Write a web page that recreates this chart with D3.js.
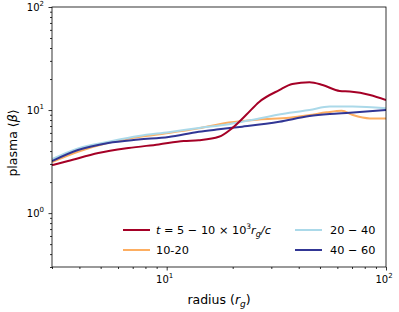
<!DOCTYPE html>
<meta charset="utf-8">
<style>
body { margin: 0; background: #fff; }
svg text { font-family: "DejaVu Sans", sans-serif; fill: #000; }
.axis path { display: none; }
.axis line { stroke: #000; stroke-width: 0.8; }
</style>
<svg class="chart" width="399" height="312"></svg>
<script src="https://d3js.org/d3.v7.min.js"></script>
<script>

var seriesNames = ["t05", "t10", "t20", "t40"];
var seriesColors = ["#a50026", "#fdae61", "#abd9e9", "#313695"];

var red = [[3,2.92],[3.55,3.2],[4.88,3.83],[6.7,4.28],[9.19,4.64],[11.97,5.0],[14.0,5.1],[17.3,5.5],[19.9,6.68],[23.0,8.94],[26.4,12.0],[32.6,15.6],[37.4,17.9],[44.8,18.6],[51.4,17.5],[61.5,15.3],[68.4,15.1],[84.5,14.0],[100,12.5]];
var orange = [[3,3.13],[3.94,3.94],[5.42,4.82],[7.45,5.47],[10.2,5.98],[14.0,6.64],[19.2,7.56],[26.4,8.09],[36.3,8.42],[44.8,8.94],[53.6,9.5],[62.8,9.84],[70.6,8.94],[84.5,8.3],[100,8.3]];
var lightBlue = [[3,3.34],[3.94,4.25],[5.42,4.92],[7.45,5.6],[10.2,6.1],[14.0,6.7],[19.2,7.3],[26.4,8.3],[36.3,9.4],[44.8,10.0],[55.4,10.8],[70.6,10.8],[100,10.4]];
var darkBlue = [[3,3.2],[3.94,4.09],[5.42,4.79],[7.45,5.17],[10.2,5.47],[14.0,6.15],[17.3,6.5],[22.1,6.9],[32.6,7.7],[44.8,8.74],[55.4,9.14],[68.4,9.4],[100,10.0]];
var series = [red, orange, lightBlue, darkBlue];

var xMajor = [10, 100];
var yMajor = [1, 10, 100];
var xMinor = [3,4,5,6,7,8,9,20,30,40,50,60,70,80,90];
var yMinor = [0.3,0.4,0.5,0.6,0.7,0.8,0.9,2,3,4,5,6,7,8,9,20,30,40,50,60,70,80,90];

var svg = d3.select(".chart");
var mLeft = 52, mRight = 386, mTop = 7, mBottom = 267;

var x = d3.scaleLog().domain([3, 100]).range([mLeft, mRight]);
var y = d3.scaleLog().domain([0.3, 100]).range([mBottom, mTop]);

function sup(sel, base, exp) {
  sel.append("tspan").text(base);
  sel.append("tspan").attr("dy", -5).attr("font-size", "7px").text(exp);
}

// x axis
svg.append("g").attr("class", "axis").attr("transform", "translate(0," + mBottom + ")")
  .call(d3.axisBottom(x).tickValues(xMinor).tickSize(2).tickFormat(""));
svg.append("g").attr("class", "axis").attr("transform", "translate(0," + mBottom + ")")
  .call(d3.axisBottom(x).tickValues(xMajor).tickSize(3.5).tickFormat(""));
xMajor.forEach(function(v) {
  var t = svg.append("text").attr("x", x(v) - 2).attr("y", mBottom + 16)
    .attr("text-anchor", "middle").attr("font-size", "10px");
  sup(t, "10", Math.round(Math.log10(v)));
});

// y axis
svg.append("g").attr("class", "axis").attr("transform", "translate(" + mLeft + ",0)")
  .call(d3.axisLeft(y).tickValues(yMinor).tickSize(2).tickFormat(""));
svg.append("g").attr("class", "axis").attr("transform", "translate(" + mLeft + ",0)")
  .call(d3.axisLeft(y).tickValues(yMajor).tickSize(3.5).tickFormat(""));
yMajor.forEach(function(v) {
  var t = svg.append("text").attr("x", mLeft - 8).attr("y", y(v) + 4)
    .attr("text-anchor", "end").attr("font-size", "10px");
  sup(t, "10", Math.round(Math.log10(v)));
});

// lines
var line = d3.line()
  .x(function(d) { return x(d[0]); })
  .y(function(d) { return y(d[1]); })
  .curve(d3.curveMonotoneX);

svg.append("defs").append("clipPath").attr("id", "clip")
  .append("rect").attr("x", mLeft).attr("y", mTop).attr("width", mRight - mLeft).attr("height", mBottom - mTop);

var drawOrder = [1, 2, 3, 0];
drawOrder.forEach(function(i) {
  svg.append("path")
    .attr("clip-path", "url(#clip)")
    .attr("d", line(series[i]))
    .attr("fill", "none")
    .attr("stroke", seriesColors[i])
    .attr("stroke-width", 2);
});

// frame
svg.append("rect").attr("x", mLeft).attr("y", mTop)
  .attr("width", mRight - mLeft).attr("height", mBottom - mTop)
  .attr("fill", "none").attr("stroke", "#000").attr("stroke-width", 0.8);

// axis labels
var xl = svg.append("text").attr("x", 219).attr("y", 304)
  .attr("text-anchor", "middle").attr("font-size", "12.5px");
xl.append("tspan").text("radius (");
xl.append("tspan").attr("font-style", "italic").text("r");
xl.append("tspan").attr("font-size", "9px").attr("font-style", "italic").attr("dy", 3).text("g");
xl.append("tspan").attr("dy", -3).text(")");

var yl = svg.append("text").attr("transform", "translate(17,143) rotate(-90)")
  .attr("text-anchor", "middle").attr("font-size", "12.5px");
yl.append("tspan").text("plasma \u27e8");
yl.append("tspan").attr("font-style", "italic").text("\u03b2");
yl.append("tspan").text("\u27e9");

// legend
var legendPos = [[123, 230], [123, 250], [295, 230], [295, 250]];
legendPos.forEach(function(p, i) {
  svg.append("line").attr("x1", p[0]).attr("x2", p[0] + 27).attr("y1", p[1]).attr("y2", p[1])
    .attr("stroke", seriesColors[i]).attr("stroke-width", 2);
});
var l0 = svg.append("text").attr("x", 156).attr("y", 234).attr("font-size", "11.3px");
l0.append("tspan").attr("font-style", "italic").text("t");
l0.append("tspan").text(" = 5 \u2212 10 \u00d7 10");
l0.append("tspan").attr("dy", -5).attr("font-size", "7.5px").text("3");
l0.append("tspan").attr("dy", 5).attr("font-style", "italic").text("r");
l0.append("tspan").attr("dy", 3).attr("font-size", "8px").attr("font-style", "italic").text("g");
l0.append("tspan").attr("dy", -3).attr("font-style", "italic").text("/c");
svg.append("text").attr("x", 156).attr("y", 254).attr("font-size", "11.3px").text("10-20");
svg.append("text").attr("x", 330).attr("y", 234).attr("font-size", "11.3px").text("20 \u2212 40");
svg.append("text").attr("x", 330).attr("y", 254).attr("font-size", "11.3px").text("40 \u2212 60");

</script>
